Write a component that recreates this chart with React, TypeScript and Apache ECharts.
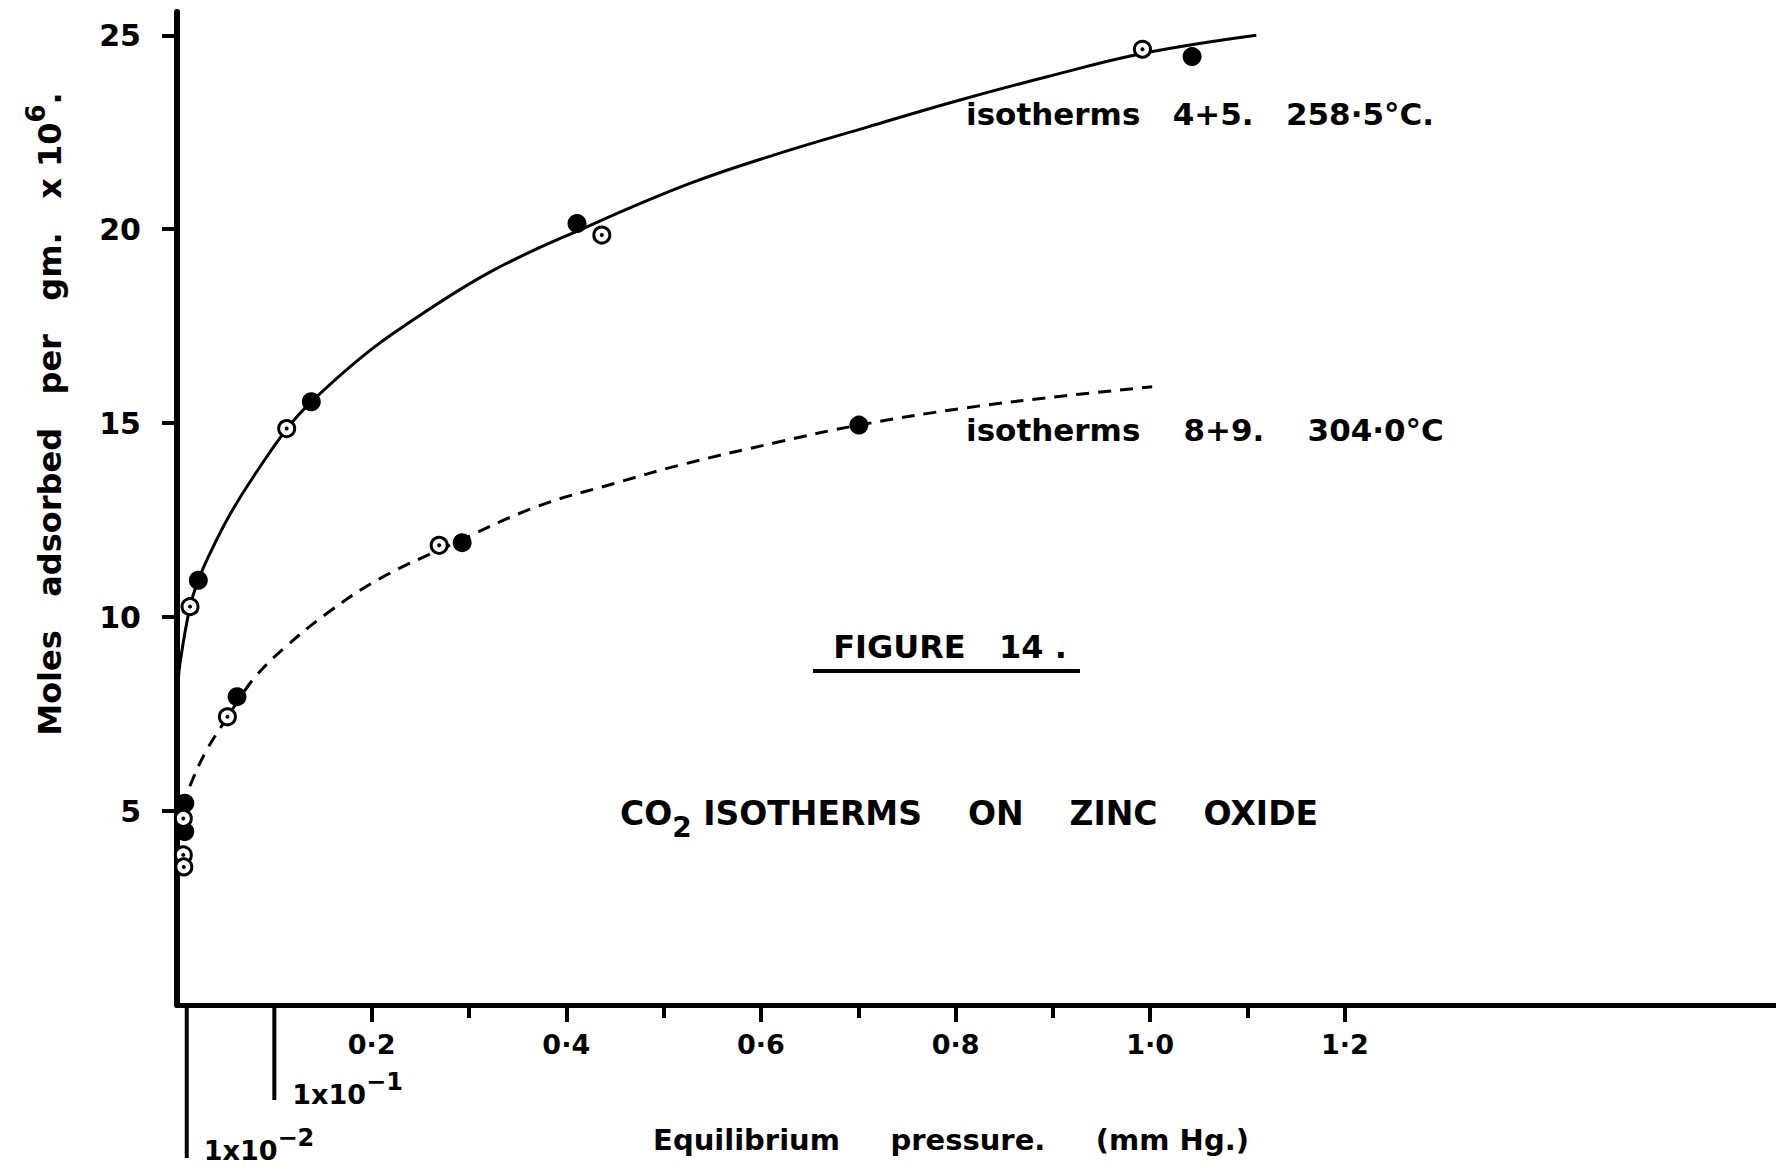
import React, { useEffect, useRef } from "react";
import * as echarts from "echarts";

// Isotherms 4+5, 258.5 °C (solid curve)
const curve45: [number, number][] = [
  [0.001, 8.2], [0.003, 8.8], [0.0134, 10.27], [0.0219, 10.95], [0.034, 11.65],
  [0.0545, 12.65], [0.078, 13.6], [0.113, 14.86], [0.138, 15.55], [0.19, 16.71],
  [0.233, 17.5], [0.322, 18.9], [0.42, 20.05], [0.527, 21.18], [0.618, 21.95],
  [0.71, 22.64], [0.8, 23.3], [0.894, 23.93], [0.992, 24.53], [1.109, 25.0],
];
const filled45: [number, number][] = [
  [0.0219, 10.95], [0.138, 15.55], [0.411, 20.15], [1.043, 24.45],
];
const open45: [number, number][] = [
  [0.0134, 10.27], [0.1127, 14.86], [0.4365, 19.85], [0.992, 24.64],
];

// Isotherms 8+9, 304.0 °C (dashed curve)
const curve89: [number, number][] = [
  [0.006, 5.1], [0.015, 5.75], [0.03, 6.55], [0.05, 7.35], [0.0617, 7.8],
  [0.08, 8.45], [0.11, 9.2], [0.157, 10.15], [0.209, 11.0], [0.28, 11.85],
  [0.37, 12.85], [0.45, 13.45], [0.517, 13.92], [0.6155, 14.5], [0.7007, 14.95],
  [0.812, 15.4], [0.911, 15.7], [1.002, 15.94],
];
const filled89: [number, number][] = [
  [0.008, 5.2], [0.008, 4.47], [0.0617, 7.95], [0.293, 11.92], [0.7007, 14.95],
];
const open89: [number, number][] = [
  [0.0065, 4.81], [0.0065, 3.87], [0.007, 3.56], [0.0518, 7.43], [0.2694, 11.85],
];

const xMajorTicks = [0.2, 0.4, 0.6, 0.8, 1.0, 1.2];
const xMinorTicks = [0.3, 0.5, 0.7, 0.9, 1.1];
const yTicks = [5, 10, 15, 20, 25];
const logMarks = [
  { value: 0.01, exp: "−2", length: 153, dx: 17, dy: 145 },
  { value: 0.1, exp: "−1", length: 95, dx: 18, dy: 89 },
];

const FONT = "DejaVu Sans";

export default function App() {
  const ref = useRef<HTMLDivElement>(null);

  useEffect(() => {
    const chart = echarts.init(ref.current!, null, { renderer: "svg" });

    const openSeries = (data: [number, number][]) => [
      {
        type: "scatter",
        data,
        symbol: "circle",
        symbolSize: 16,
        itemStyle: { color: "#fff", borderColor: "#000", borderWidth: 3, opacity: 1 },
        z: 5,
      },
      {
        type: "scatter",
        data,
        symbol: "circle",
        symbolSize: 4,
        itemStyle: { color: "#000", opacity: 1 },
        z: 6,
      },
    ];
    const filledSeries = (data: [number, number][]) => ({
      type: "scatter",
      data,
      symbol: "circle",
      symbolSize: 19,
      itemStyle: { color: "#000", opacity: 1 },
      z: 5,
    });

    const option: any = {
      animation: false,
      backgroundColor: "#fff",
      grid: { left: 177, right: 0, top: 12, bottom: 167, containLabel: false },
      xAxis: [
        {
          type: "value",
          min: 0,
          max: 1.643,
          axisLine: { show: true, lineStyle: { color: "#000", width: 5 } },
          axisTick: {
            show: true,
            customValues: xMajorTicks,
            length: 17,
            lineStyle: { color: "#000", width: 4 },
          },
          axisLabel: {
            customValues: xMajorTicks,
            margin: 26,
            color: "#000",
            fontFamily: FONT,
            fontWeight: "bold",
            fontSize: 27,
            formatter: (v: number) => v.toFixed(1).replace(".", "·"),
          },
          splitLine: { show: false },
        },
        {
          type: "value",
          min: 0,
          max: 1.643,
          position: "bottom",
          offset: 0,
          axisLine: { show: false },
          axisTick: {
            show: true,
            customValues: xMinorTicks,
            length: 13,
            lineStyle: { color: "#000", width: 4 },
          },
          axisLabel: { show: false },
          splitLine: { show: false },
        },
      ],
      yAxis: {
        type: "value",
        min: 0,
        max: 25.6,
        axisLine: { show: true, lineStyle: { color: "#000", width: 6 } },
        axisTick: {
          show: true,
          customValues: yTicks,
          length: 15,
          lineStyle: { color: "#000", width: 4 },
        },
        axisLabel: {
          customValues: yTicks,
          margin: 36,
          color: "#000",
          fontFamily: FONT,
          fontWeight: "bold",
          fontSize: 30,
        },
        splitLine: { show: false },
      },
      series: [
        {
          type: "line",
          data: curve45,
          smooth: 0.4,
          showSymbol: false,
          lineStyle: { color: "#000", width: 3 },
          z: 3,
        },
        {
          type: "line",
          data: curve89,
          smooth: 0.4,
          showSymbol: false,
          lineStyle: { color: "#000", width: 3, type: [13, 9] },
          z: 3,
        },
        filledSeries(filled45),
        ...openSeries(open45),
        filledSeries(filled89),
        ...openSeries(open89),
      ],
    };
    chart.setOption(option);

    const txt = (extra: any) => ({
      type: "text",
      z: 10,
      ...extra,
      style: {
        fill: "#000",
        fontFamily: FONT,
        fontWeight: "bold",
        ...extra.style,
      },
    });

    const graphics: any[] = [];
    logMarks.forEach((m) => {
      const p = chart.convertToPixel({ gridIndex: 0 } as any, [m.value, 0]) as number[];
      graphics.push({
        type: "line",
        z: 10,
        shape: { x1: p[0], y1: p[1], x2: p[0], y2: p[1] + m.length },
        style: { stroke: "#000", lineWidth: 4 },
      });
      graphics.push(
        txt({
          x: p[0] + m.dx,
          y: p[1] + m.dy,
          style: {
            text: `1x10{sup|${m.exp}}`,
            fontSize: 27,
            align: "left",
            verticalAlign: "middle",
            textAlign: "left",
            textVerticalAlign: "middle",
            rich: {
              sup: {
                fontSize: 24,
                fontFamily: FONT,
                fontWeight: "bold",
                fill: "#000",
                padding: [0, 0, 24, 0],
              },
            },
          },
        })
      );
    });

    graphics.push(
      txt({
        x: 50,
        y: 414,
        rotation: Math.PI / 2,
        style: {
          text: "Moles   adsorbed   per   gm.   x 10{sup|6}.",
          fontSize: 32,
          align: "center",
          verticalAlign: "middle",
          textAlign: "center",
          textVerticalAlign: "middle",
          rich: {
            sup: {
              fontSize: 26,
              fontFamily: FONT,
              fontWeight: "bold",
              fill: "#000",
              padding: [0, 0, 28, 0],
            },
          },
        },
      }),
      txt({
        x: 951,
        y: 1140,
        style: {
          text: "Equilibrium     pressure.     (mm Hg.)",
          fontSize: 29,
          align: "center",
          verticalAlign: "middle",
          textAlign: "center",
          textVerticalAlign: "middle",
        },
      }),
      txt({
        x: 966,
        y: 114,
        style: {
          text: "isotherms   4+5.   258·5°C.",
          fontSize: 31,
          align: "left",
          verticalAlign: "middle",
          textAlign: "left",
          textVerticalAlign: "middle",
        },
      }),
      txt({
        x: 966,
        y: 430,
        style: {
          text: "isotherms    8+9.    304·0°C",
          fontSize: 31,
          align: "left",
          verticalAlign: "middle",
          textAlign: "left",
          textVerticalAlign: "middle",
        },
      }),
      txt({
        x: 950,
        y: 647,
        style: {
          text: "FIGURE   14 .",
          fontSize: 32,
          align: "center",
          verticalAlign: "middle",
          textAlign: "center",
          textVerticalAlign: "middle",
        },
      }),
      {
        type: "line",
        z: 10,
        shape: { x1: 813, y1: 671, x2: 1080, y2: 671 },
        style: { stroke: "#000", lineWidth: 4 },
      },
      txt({
        x: 969,
        y: 813,
        style: {
          text: "CO{sub|2} ISOTHERMS    ON    ZINC    OXIDE",
          fontSize: 33,
          align: "center",
          verticalAlign: "middle",
          textAlign: "center",
          textVerticalAlign: "middle",
          rich: {
            sub: {
              fontSize: 28,
              fontFamily: FONT,
              fontWeight: "bold",
              fill: "#000",
              padding: [28, 0, 0, 0],
            },
          },
        },
      })
    );

    chart.setOption({ graphic: graphics });

    return () => chart.dispose();
  }, []);

  return (
    <div
      ref={ref}
      style={{
        position: "absolute",
        left: 0,
        top: 0,
        width: 1776,
        height: 1172,
        background: "#fff",
      }}
    />
  );
}
